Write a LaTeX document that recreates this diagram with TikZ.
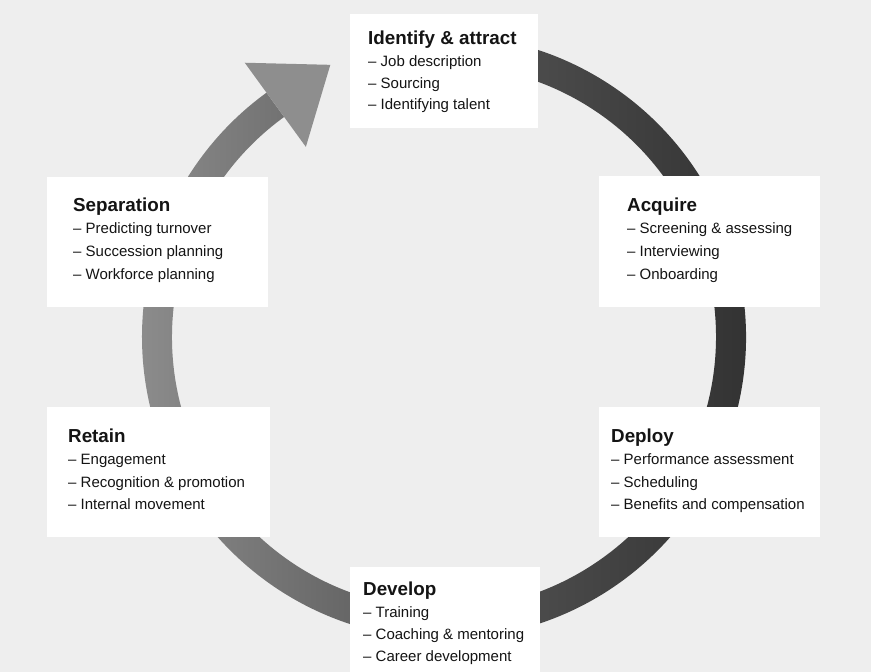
\documentclass[tikz,border=0pt]{standalone}
\usepackage{fontspec}
\setmainfont{Liberation Sans}
\definecolor{bg}{HTML}{EEEEEE}
\definecolor{ink}{HTML}{141414}
\definecolor{ringL}{HTML}{8E8E8E}
\definecolor{ringM}{HTML}{555555}
\definecolor{ringR}{HTML}{303030}
\definecolor{headc}{HTML}{8E8E8E}
\begin{document}
\begin{tikzpicture}[x=1pt,y=1pt,
  card/.style={fill=white, draw=none, inner sep=0pt},
  headline/.style={anchor=base west, inner sep=0pt, text=ink,
    font=\bfseries\fontsize{18.8}{22}\selectfont},
  itemline/.style={anchor=base west, inner sep=0pt, text=ink,
    font=\fontsize{15}{18}\selectfont}]

% canvas
\fill[bg] (0,0) rectangle (871,672);
\useasboundingbox (0,0) rectangle (871,672);

% cycle ring, running clockwise from the top
\coordinate (c) at (444,335);
\shade[left color=ringL, right color=ringR, middle color=ringM]
  ([shift={(c)}]100:302pt) arc[start angle=100, end angle=-234, radius=302pt]
  -- ([shift={(c)}]-234:272pt) arc[start angle=-234, end angle=100, radius=272pt]
  -- cycle;

% arrowhead at the end of the ring
\coordinate (hb) at ([shift={(c)}]126:287pt);
\coordinate (ho) at ([shift={(c)}]126:339pt);
\coordinate (hi) at ([shift={(c)}]126:235pt);
\coordinate (tip) at ([shift={(hb)}]36:68pt);
\fill[headc] (ho) -- (tip) -- (hi) -- cycle;

% stage cards
\node[card, minimum width=188pt, minimum height=114pt] (ident) at (444,601) {};
\node[card, minimum width=221pt, minimum height=131pt] (acq) at (709.5,430.5) {};
\node[card, minimum width=221pt, minimum height=130pt] (sep) at (157.5,430) {};
\node[card, minimum width=221pt, minimum height=130pt] (dep) at (709.5,200) {};
\node[card, minimum width=223pt, minimum height=130pt] (ret) at (158.5,200) {};
\node[card, minimum width=190pt, minimum height=105pt] (dev) at (445,52.5) {};

% Identify & attract
\node[headline] (ident-t) at (368,627) {Identify \& attract};
\node[itemline] (ident-1) at (368,605) {– Job description};
\node[itemline] (ident-2) at (368,583.5) {– Sourcing};
\node[itemline] (ident-3) at (368,562) {– Identifying talent};

% Acquire
\node[headline] (acq-t) at (627,460) {Acquire};
\node[itemline] (acq-1) at (627,438) {– Screening \& assessing};
\node[itemline] (acq-2) at (627,415) {– Interviewing};
\node[itemline] (acq-3) at (627,392) {– Onboarding};

% Separation
\node[headline] (sep-t) at (73,460) {Separation};
\node[itemline] (sep-1) at (73,438) {– Predicting turnover};
\node[itemline] (sep-2) at (73,415) {– Succession planning};
\node[itemline] (sep-3) at (73,392) {– Workforce planning};

% Deploy
\node[headline] (dep-t) at (611,229) {Deploy};
\node[itemline] (dep-1) at (611,207) {– Performance assessment};
\node[itemline] (dep-2) at (611,184) {– Scheduling};
\node[itemline] (dep-3) at (611,162) {– Benefits and compensation};

% Retain
\node[headline] (ret-t) at (68,229) {Retain};
\node[itemline] (ret-1) at (68,207) {– Engagement};
\node[itemline] (ret-2) at (68,184) {– Recognition \& promotion};
\node[itemline] (ret-3) at (68,162) {– Internal movement};

% Develop
\node[headline] (dev-t) at (363,76) {Develop};
\node[itemline] (dev-1) at (363,54) {– Training};
\node[itemline] (dev-2) at (363,32) {– Coaching \& mentoring};
\node[itemline] (dev-3) at (363,10) {– Career development};

\end{tikzpicture}
\end{document}
